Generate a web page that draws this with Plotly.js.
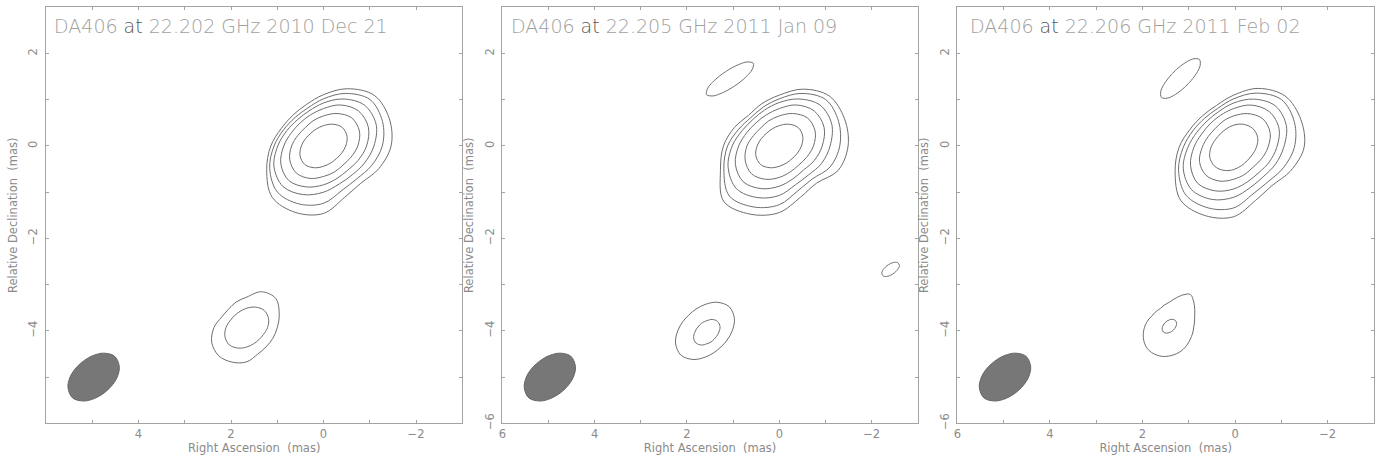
<!DOCTYPE html>
<html><head><meta charset="utf-8">
<script src="https://cdn.plot.ly/plotly-3.0.1.min.js"></script>
<style>html,body{margin:0;padding:0;background:#fff;}#chart{width:1377px;height:462px;}</style>
</head><body><div id="chart"></div>
<script>
// Contour radii (mas) are sampled at equally spaced position angles, counter-clockwise
// from west (-RA) through north; 16 samples = 22.5 deg steps, 32 samples = 11.25 deg steps.

const panelTitles = ["DA406 <span style=\"color:#555\">at</span> 22.202 GHz 2010 Dec 21",
                     "DA406 <span style=\"color:#555\">at</span> 22.205 GHz 2011 Jan 09",
                     "DA406 <span style=\"color:#555\">at</span> 22.206 GHz 2011 Feb 02"];
const xTickVals = [6,5,4,3,2,1,0,-1,-2,-3];
const xTickTextFirst = ["","","4","","2","","0","","\u22122",""];
const xTickTextOther = ["6","","4","","2","","0","","\u22122",""];
const yTickVals = [-6,-5,-4,-3,-2,-1,0,1,2,3];
const yTickTextFirst = ["","","\u22124","","\u22122","","0","","2",""];
const yTickTextOther = ["\u22126","","\u22124","","\u22122","","0","","2",""];

// restoring beam (mas)
const beamCenter = [4.97,-5.00];
const beamRadii = [0.51,0.60,0.64,0.56,0.47,0.42,0.41,0.44,0.51,0.60,0.64,0.56,0.47,0.42,0.41,0.44];

// ---- 2010 Dec 21 ----
const dec21CoreCenter = [0.00,0.00];
const dec21Core = [
  [1.46,1.54,1.55,1.34,1.11,0.97,0.94,0.99,1.14,1.33,1.57,1.56,1.46,1.20,1.14,1.29],
  [1.27,1.38,1.42,1.23,1.02,0.89,0.87,0.93,1.07,1.26,1.41,1.36,1.24,1.04,1.01,1.12],
  [1.09,1.23,1.25,1.10,0.93,0.82,0.80,0.86,0.99,1.16,1.24,1.14,1.00,0.89,0.88,0.96],
  [0.93,1.05,1.07,0.96,0.81,0.73,0.71,0.75,0.86,1.00,1.06,0.96,0.84,0.76,0.74,0.81],
  [0.74,0.84,0.86,0.76,0.65,0.59,0.56,0.60,0.69,0.79,0.83,0.76,0.66,0.61,0.59,0.64],
  [0.48,0.55,0.57,0.51,0.44,0.40,0.39,0.42,0.48,0.55,0.57,0.51,0.44,0.40,0.39,0.42]
];
const dec21SwCenter = [1.66,-3.93];
const dec21Sw = [
  [0.66,0.76,0.89,0.84,0.66,0.60,0.56,0.59,0.71,0.82,0.86,0.81,0.74,0.62,0.59,0.61],
  [0.45,0.51,0.53,0.48,0.42,0.38,0.37,0.39,0.45,0.51,0.53,0.48,0.42,0.38,0.37,0.39]
];

// ---- 2011 Jan 09 ----
const jan09CoreCenter = [0.00,0.00];
const jan09Core = [
  [1.49,1.53,1.53,1.33,1.10,0.99,0.94,1.05,1.21,1.38,1.70,1.60,1.44,1.20,1.14,1.38],
  [1.31,1.39,1.42,1.23,1.02,0.91,0.87,0.95,1.12,1.30,1.53,1.43,1.27,1.05,1.01,1.19],
  [1.10,1.23,1.25,1.10,0.94,0.84,0.81,0.87,1.02,1.20,1.31,1.21,1.07,0.91,0.89,0.99],
  [0.93,1.05,1.07,0.96,0.81,0.73,0.71,0.76,0.88,1.03,1.10,1.00,0.87,0.77,0.74,0.82],
  [0.74,0.84,0.86,0.76,0.65,0.59,0.56,0.60,0.70,0.80,0.85,0.78,0.68,0.61,0.59,0.64],
  [0.48,0.55,0.57,0.51,0.44,0.40,0.39,0.42,0.48,0.55,0.57,0.51,0.44,0.40,0.39,0.42]
];
const jan09NeCenter = [1.07,1.45];
const jan09Ne = [
  [0.301,0.387,0.519,0.610,0.519,0.387,0.301,0.248,0.216,0.196,0.186,0.183,0.186,0.196,0.216,0.248,
   0.301,0.387,0.519,0.610,0.519,0.387,0.301,0.248,0.216,0.196,0.186,0.183,0.186,0.196,0.216,0.248]
];
const jan09EastCenter = [-2.41,-2.67];
const jan09East = [
  [0.156,0.206,0.211,0.161,0.127,0.112,0.111,0.124,0.156,0.206,0.211,0.161,0.127,0.112,0.111,0.124]
];
const jan09SwOuterCenter = [1.61,-4.00];
const jan09SwOuter = [
  [0.59,0.69,0.74,0.67,0.57,0.51,0.49,0.52,0.59,0.69,0.74,0.67,0.57,0.51,0.49,0.52]
];
const jan09SwInnerCenter = [1.57,-4.03];
const jan09SwInner = [
  [0.26,0.31,0.33,0.30,0.25,0.23,0.22,0.23,0.26,0.31,0.33,0.30,0.25,0.23,0.22,0.23]
];

// ---- 2011 Feb 02 ----
const feb02CoreCenter = [0.03,-0.03];
const feb02Core = [
  [1.52,1.57,1.57,1.38,1.13,0.98,0.96,1.02,1.18,1.37,1.62,1.60,1.50,1.24,1.17,1.33],
  [1.31,1.42,1.46,1.27,1.05,0.91,0.89,0.95,1.09,1.29,1.46,1.42,1.31,1.09,1.05,1.16],
  [1.08,1.23,1.27,1.13,0.96,0.84,0.81,0.86,0.99,1.18,1.29,1.22,1.08,0.94,0.90,0.97],
  [0.93,1.06,1.09,0.99,0.84,0.75,0.72,0.75,0.86,1.01,1.10,1.02,0.90,0.80,0.77,0.83],
  [0.74,0.85,0.88,0.79,0.68,0.61,0.57,0.60,0.68,0.80,0.85,0.79,0.69,0.63,0.60,0.65],
  [0.49,0.56,0.58,0.54,0.48,0.43,0.41,0.43,0.49,0.56,0.58,0.54,0.48,0.43,0.41,0.43]
];
const feb02NeCenter = [1.18,1.46];
const feb02Ne = [
  [0.267,0.320,0.402,0.512,0.580,0.512,0.402,0.320,0.267,0.234,0.214,0.203,0.200,0.203,0.214,0.234,
   0.267,0.320,0.402,0.512,0.580,0.512,0.402,0.320,0.267,0.234,0.214,0.203,0.200,0.203,0.214,0.234]
];
const feb02SwOuterCenter = [1.44,-3.92];
const feb02SwOuter = [
  [0.547,0.575,0.614,0.683,0.773,0.852,0.745,0.618,0.527,0.484,0.442,0.432,0.430,0.432,0.458,0.485,
   0.516,0.550,0.587,0.622,0.649,0.658,0.654,0.646,0.627,0.609,0.593,0.576,0.558,0.545,0.537,0.540]
];
const feb02SwInnerCenter = [1.42,-3.90];
const feb02SwInner = [
  [0.144,0.169,0.180,0.162,0.138,0.124,0.120,0.127,0.144,0.169,0.180,0.162,0.138,0.124,0.120,0.127]
];

// ---------- build ----------
function ring(center, radii) {
  const x = [], y = [];
  const step = 360 / radii.length;
  radii.forEach((r, i) => {
    const t = i * step * Math.PI / 180;
    x.push(center[0] - r * Math.cos(t));
    y.push(center[1] + r * Math.sin(t));
  });
  x.push(x[0]); y.push(y[0]);
  return {x, y};
}
const traces = [];
const contourLine = {color:'#6e6e6e', width:1, shape:'spline', smoothing:1, simplify:false};
function addContours(center, list, xa, ya) {
  list.forEach(radii => {
    const p = ring(center, radii);
    traces.push({type:'scatter', mode:'lines', x:p.x, y:p.y, xaxis:xa, yaxis:ya,
      line:contourLine, hoverinfo:'skip', showlegend:false});
  });
}
function addBeam(xa, ya) {
  const p = ring(beamCenter, beamRadii);
  traces.push({type:'scatter', mode:'lines', x:p.x, y:p.y, xaxis:xa, yaxis:ya, fill:'toself',
    fillcolor:'#777777', line:{color:'#666666', width:1, shape:'spline', smoothing:1, simplify:false},
    hoverinfo:'skip', showlegend:false});
}
addBeam('x','y');
addContours(dec21CoreCenter, dec21Core, 'x','y');
addContours(dec21SwCenter, dec21Sw, 'x','y');
addBeam('x2','y2');
addContours(jan09CoreCenter, jan09Core, 'x2','y2');
addContours(jan09NeCenter, jan09Ne, 'x2','y2');
addContours(jan09EastCenter, jan09East, 'x2','y2');
addContours(jan09SwOuterCenter, jan09SwOuter, 'x2','y2');
addContours(jan09SwInnerCenter, jan09SwInner, 'x2','y2');
addBeam('x3','y3');
addContours(feb02CoreCenter, feb02Core, 'x3','y3');
addContours(feb02NeCenter, feb02Ne, 'x3','y3');
addContours(feb02SwOuterCenter, feb02SwOuter, 'x3','y3');
addContours(feb02SwInnerCenter, feb02SwInner, 'x3','y3');

const W = 1377, H = 462;
const FONT = 'DejaVu Sans, Liberation Sans, Arial, sans-serif';
const frameCol = '#a3a3a3', textCol = '#8a8a8a';
const yDom = [1 - 423.3 / H, 1 - 7.3 / H];
const frames = [[46, 462.3], [502.3, 917.8], [957.3, 1374]];
const titleLeft = [51.7, 509, 967.7];

function xAxis(i) {
  return {domain:[frames[i][0]/W, frames[i][1]/W], anchor: i===0?'y':'y'+(i+1), range:[6,-3],
    showline:true, linecolor:frameCol, linewidth:1, mirror:'ticks', ticks:'inside', ticklen:3,
    tickcolor:frameCol, tickwidth:1, tickmode:'array', tickvals:xTickVals,
    ticktext: i===0 ? xTickTextFirst : xTickTextOther, showgrid:false, zeroline:false,
    tickfont:{family:FONT, size:11.5, color:textCol}, ticklabelstandoff:0,
    title:{text:'Right Ascension\u00a0 (mas)', font:{family:FONT, size:11.5, color:textCol}, standoff:3},
    fixedrange:true};
}
function yAxis(i) {
  return {domain:yDom, anchor: i===0?'x':'x'+(i+1), range:[-6,3],
    showline:true, linecolor:frameCol, linewidth:1, mirror:'ticks', ticks:'inside', ticklen:3,
    tickcolor:frameCol, tickwidth:1, tickmode:'array', tickvals:yTickVals,
    ticktext: i===0 ? yTickTextFirst : yTickTextOther, tickangle:-90, showgrid:false, zeroline:false,
    tickfont:{family:FONT, size:11.5, color:textCol}, ticklabelstandoff:3,
    title:{text:'Relative Declination\u00a0 (mas)', font:{family:FONT, size:11.5, color:textCol}, standoff:6},
    fixedrange:true};
}
const layout = {
  width:W, height:H, margin:{l:0, r:0, t:0, b:0}, paper_bgcolor:'#fff', plot_bgcolor:'#fff',
  showlegend:false,
  xaxis:xAxis(0), yaxis:yAxis(0), xaxis2:xAxis(1), yaxis2:yAxis(1), xaxis3:xAxis(2), yaxis3:yAxis(2),
  annotations: panelTitles.map((t, i) => ({text:t, xref:'paper', yref:'paper',
    x:titleLeft[i]/W, y:1 - 26/H, xanchor:'left', yanchor:'middle', showarrow:false,
    font:{family:FONT, size:19, color:'#a0a0a0', weight:200}}))
};
Plotly.newPlot('chart', traces, layout, {staticPlot:true, displayModeBar:false});
</script></body></html>
